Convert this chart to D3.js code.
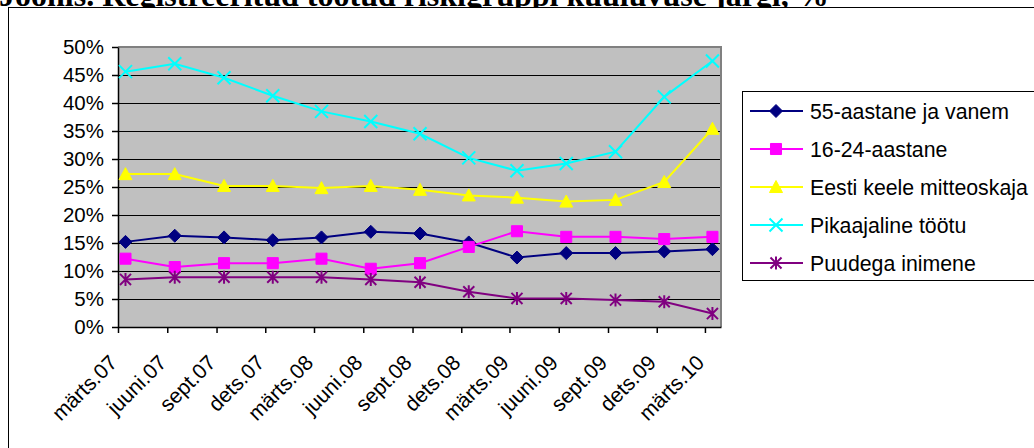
<!DOCTYPE html>
<html><head><meta charset="utf-8">
<script src="https://cdn.jsdelivr.net/npm/d3@7"></script>
<style>body{margin:0;background:#fff;overflow:hidden;} svg{display:block;}</style>
</head><body><svg id="c" width="1034" height="448"></svg>
<script>
const titleText = "Joonis. Registreeritud töötud riskigruppi kuuluvuse järgi, %";
const months = ["2007-03","2007-06","2007-09","2007-12","2008-03","2008-06","2008-09","2008-12","2009-03","2009-06","2009-09","2009-12","2010-03"];
const tickLabels = ["märts.07","juuni.07","sept.07","dets.07","märts.08","juuni.08","sept.08","dets.08","märts.09","juuni.09","sept.09","dets.09","märts.10"];
const yTicks = [0,5,10,15,20,25,30,35,40,45,50];
const seriesNames = ["55-aastane ja vanem","16-24-aastane","Eesti keele mitteoskaja","Pikaajaline töötu","Puudega inimene"];
const age55 = [15.2,16.3,16.0,15.5,16.0,17.0,16.7,15.1,12.4,13.2,13.2,13.5,13.9];
const age1624 = [12.2,10.7,11.4,11.4,12.2,10.4,11.4,14.3,17.1,16.1,16.1,15.7,16.1];
const noEstonian = [27.3,27.3,25.2,25.2,24.8,25.2,24.5,23.5,23.1,22.4,22.7,25.9,35.4];
const longTerm = [45.6,47.0,44.5,41.3,38.5,36.7,34.5,30.2,27.9,29.2,31.3,41.1,47.5];
const disabled = [8.5,8.9,8.9,8.9,8.9,8.5,8.0,6.3,5.1,5.1,4.8,4.5,2.4];
const seriesColors = ["#000080","#FF00FF","#FFFF00","#00FFFF","#800080"];
const seriesMarkers = ["diamond","square","triangle","x","star"];
const seriesValues = [age55, age1624, noEstonian, longTerm, disabled];

const svg = d3.select("#c");
const parseMonth = s => { const [yy, mm] = s.split("-").map(Number); return [yy, mm - 1]; };
const pointDates = months.map(s => { const [yy, mm] = parseMonth(s); return new Date(yy, mm, 15); });
const tickDates = months.map(s => { const [yy, mm] = parseMonth(s); return new Date(yy, mm, 1); });

const L = 118, R = 721, T = 47, B = 327;
const x = d3.scaleTime().domain([new Date(2007,2,1), new Date(2010,2,31)]).range([L, R]);
const y = d3.scaleLinear().domain([0, 50]).range([B, T]);

// title (partially hidden behind chart area, as in the original)
svg.append("text").attr("x", -1).attr("y", 6)
  .attr("font-family", "'Liberation Serif','Times New Roman',serif")
  .attr("font-weight", "bold").attr("font-size", 32).attr("fill", "#000")
  .text(titleText);

// chart area
svg.append("rect").attr("x", 8.5).attr("y", 7.5).attr("width", 1200).attr("height", 600)
  .attr("fill", "#fff").attr("stroke", "#000").attr("stroke-width", 1);

// plot area
svg.append("rect").attr("x", L).attr("y", T).attr("width", R - L).attr("height", B - T).attr("fill", "#C0C0C0");
svg.append("g").selectAll("line").data(yTicks.filter(d => d > 0 && d < 50)).join("line")
  .attr("x1", L).attr("x2", R).attr("y1", d => Math.round(y(d)) + 0.5).attr("y2", d => Math.round(y(d)) + 0.5)
  .attr("stroke", "#000").attr("stroke-width", 1);
svg.append("path").attr("d", `M${L},${T}H${R}V${B}`).attr("fill", "none").attr("stroke", "#808080").attr("stroke-width", 2);

const font = "'Liberation Sans',Arial,sans-serif";
// y axis
const ya = svg.append("g").attr("transform", `translate(${L},0)`)
  .call(d3.axisLeft(y).tickValues(yTicks).tickSize(6).tickSizeOuter(0).tickPadding(8).tickFormat(d => d + "%"));
ya.select(".domain").attr("stroke", "#000").attr("stroke-width", 1.5);
ya.selectAll(".tick line").attr("stroke", "#000").attr("stroke-width", 1.5);
ya.selectAll("text").attr("font-family", font).attr("font-size", 20.5).attr("fill", "#000");

// x axis
const xa = svg.append("g").attr("transform", `translate(0,${B})`)
  .call(d3.axisBottom(x).tickValues(tickDates).tickSize(6).tickSizeOuter(0).tickFormat((d, i) => tickLabels[i]));
xa.select(".domain").attr("stroke", "#000").attr("stroke-width", 1.5);
xa.selectAll(".tick line").attr("stroke", "#000").attr("stroke-width", 1.5);
xa.selectAll("text").attr("font-family", font).attr("font-size", 21).attr("fill", "#000")
  .attr("text-anchor", "end").attr("dy", 0).attr("y", 0)
  .attr("transform", "translate(0,37) rotate(-45)");

function markerPath(type, s) {
  switch (type) {
    case "diamond": return `M0,${-s}L${s},0L0,${s}L${-s},0Z`;
    case "square": return `M${-s*0.85},${-s*0.85}H${s*0.85}V${s*0.85}H${-s*0.85}Z`;
    case "triangle": return `M0,${-s}L${s},${s*0.85}H${-s}Z`;
    case "x": return `M${-s},${-s}L${s},${s}M${-s},${s}L${s},${-s}`;
    case "star": return `M${-s*0.85},${-s*0.85}L${s*0.85},${s*0.85}M${-s*0.85},${s*0.85}L${s*0.85},${-s*0.85}M0,${-s}V${s}`;
  }
}
function drawMarker(g, type, color) {
  const filled = type === "diamond" || type === "square" || type === "triangle";
  g.append("path").attr("d", markerPath(type, 6.5))
    .attr("fill", filled ? color : "none")
    .attr("stroke", color).attr("stroke-width", filled ? 1 : 2);
}

const line = d3.line().x((d, i) => x(pointDates[i])).y(d => y(d));
seriesValues.forEach((vals, si) => {
  svg.append("path").attr("d", line(vals)).attr("fill", "none")
    .attr("stroke", seriesColors[si]).attr("stroke-width", 2);
});
seriesValues.forEach((vals, si) => {
  vals.forEach((v, i) => {
    const g = svg.append("g").attr("transform", `translate(${x(pointDates[i])},${y(v)})`);
    drawMarker(g, seriesMarkers[si], seriesColors[si]);
  });
});

// legend
svg.append("rect").attr("x", 742.5).attr("y", 91.5).attr("width", 400).attr("height", 189)
  .attr("fill", "#fff").attr("stroke", "#000").attr("stroke-width", 1);
seriesNames.forEach((name, si) => {
  const cy = 111 + si * 38;
  svg.append("line").attr("x1", 750).attr("x2", 803).attr("y1", cy).attr("y2", cy)
    .attr("stroke", seriesColors[si]).attr("stroke-width", 2);
  const g = svg.append("g").attr("transform", `translate(776,${cy})`);
  drawMarker(g, seriesMarkers[si], seriesColors[si]);
  svg.append("text").attr("x", 810).attr("y", cy).attr("dy", "0.36em")
    .attr("font-family", font).attr("font-size", 21.3).attr("fill", "#000").text(name);
});
</script>
</body></html>
